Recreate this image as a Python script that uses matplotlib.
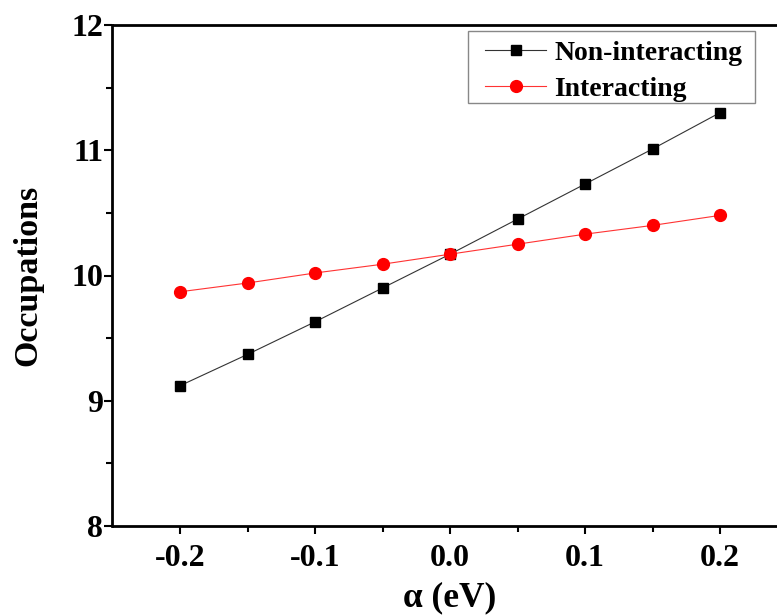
import matplotlib
matplotlib.use("Agg")
import matplotlib.pyplot as plt
from matplotlib.ticker import MultipleLocator, FixedLocator
from matplotlib.patches import Rectangle

alpha = [-0.2, -0.15, -0.1, -0.05, 0.0, 0.05, 0.1, 0.15, 0.2]
non_interacting = [9.12, 9.37, 9.63, 9.90, 10.17, 10.45, 10.73, 11.01, 11.30]
interacting = [9.87, 9.94, 10.02, 10.09, 10.17, 10.25, 10.33, 10.40, 10.48]
xticks = [-0.2, -0.1, 0.0, 0.1, 0.2]
xticklabels = ["-0.2", "-0.1", "0.0", "0.1", "0.2"]
yticks = [8, 9, 10, 11, 12]

plt.rcParams['font.family'] = ['Liberation Serif', 'DejaVu Serif']
plt.rcParams['font.weight'] = 'bold'

W, H = 777, 615
fig = plt.figure(figsize=(W / 100, H / 100), dpi=100)
left, right, top, bottom = 112.5, 787.5, 25, 526
ax = fig.add_axes([left / W, 1 - bottom / H, (right - left) / W, (bottom - top) / H])

ax.plot(alpha, non_interacting, color='#333333', lw=0.8, marker='s', ms=7.5,
        mfc='black', mec='black', label='Non-interacting')
ax.plot(alpha, interacting, color='#ff3333', lw=0.8, marker='o', ms=8.5,
        mfc='red', mec='red', label='Interacting')

ax.set_xlim(-0.25, 0.25)
ax.set_ylim(8, 12)
ax.set_xticks(xticks)
ax.set_xticklabels(xticklabels)
ax.set_yticks(yticks)
ax.xaxis.set_minor_locator(FixedLocator([-0.15, -0.05, 0.05, 0.15]))
ax.yaxis.set_minor_locator(MultipleLocator(0.5))

for s in ax.spines.values():
    s.set_linewidth(2)
ax.tick_params(which='major', direction='out', length=6, width=1.5, labelsize=23)
ax.tick_params(which='minor', direction='out', length=4, width=1.5)
ax.tick_params(axis='x', which='major', pad=7)
ax.tick_params(axis='y', which='major', pad=0.5)
for lbl in ax.get_xticklabels() + ax.get_yticklabels():
    lbl.set_fontweight('bold')

ax.set_xlabel('α (eV)', fontsize=25.5, fontweight='bold', labelpad=6)
ax.set_ylabel('Occupations', fontsize=24.5, fontweight='bold', labelpad=20)

# legend frame drawn separately (figure pixel box)
ax.add_patch(Rectangle((468 / W, 1 - 103 / H), (755 - 468) / W, (103 - 31) / H,
                       transform=fig.transFigure, facecolor='white',
                       edgecolor='#888888', lw=1.0, zorder=4, clip_on=False))
leg = ax.legend(loc='upper left', bbox_to_anchor=(474 / W, 1 - 29 / H),
                bbox_transform=fig.transFigure,
                fontsize=20, frameon=False,
                handlelength=2.2, borderpad=0.4, labelspacing=0.38, handletextpad=0.3,
                borderaxespad=0)
leg.set_zorder(5)
for t in leg.get_texts():
    t.set_fontweight('bold')

fig.savefig('out.png', dpi=100)
